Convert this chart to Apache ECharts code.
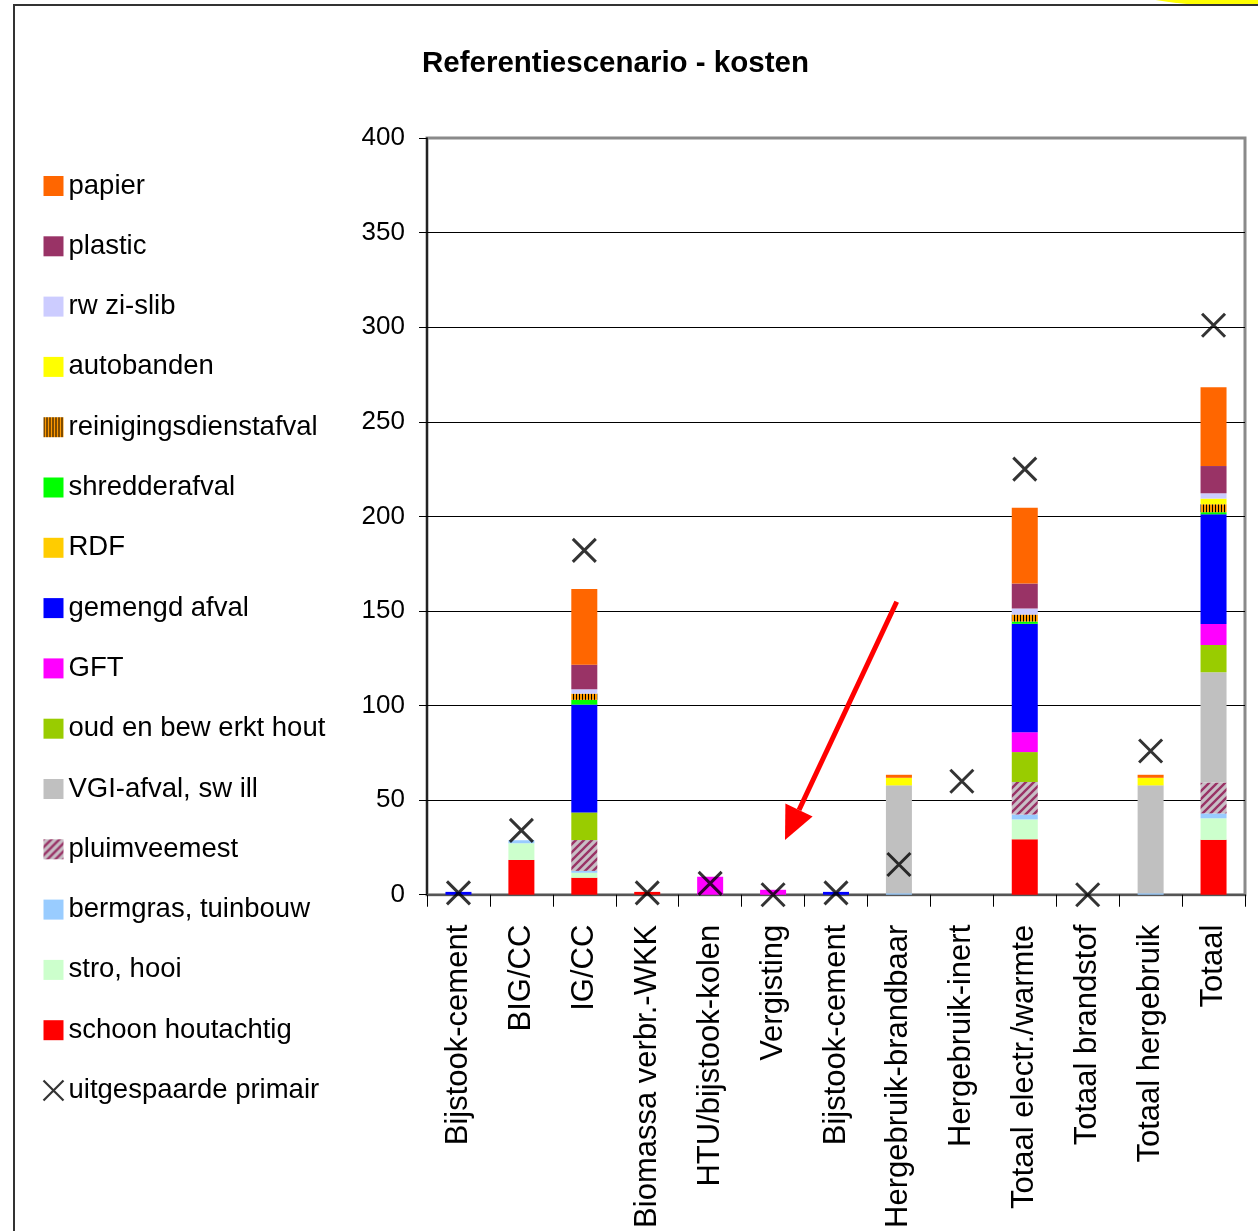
<!DOCTYPE html>
<html>
<head>
<meta charset="utf-8">
<script src="https://cdn.jsdelivr.net/npm/echarts@6/dist/echarts.min.js"></script>
<style>
  html, body { margin: 0; padding: 0; background: #fff; }
  #chart { width: 1258px; height: 1231px; }
</style>
</head>
<body>
<div id="chart"></div>
<script>
// Categories along the x axis
const categories = ['Bijstook-cement', 'BIG/CC', 'IG/CC', 'Biomassa verbr.-WKK', 'HTU/bijstook-kolen',
  'Vergisting', 'Bijstook-cement', 'Hergebruik-brandbaar', 'Hergebruik-inert',
  'Totaal electr./warmte', 'Totaal brandstof', 'Totaal hergebruik', 'Totaal'];

// Cost per waste stream (stacked bottom to top)
const schoonHoutachtig = [0, 18.4, 9, 1.5, 0, 0, 0, 0, 0, 29.3, 0, 0, 29];
const stroHooi        = [0, 8.8, 2.6, 0, 0, 0, 0, 0, 0, 10.5, 0, 0, 11.4];
const bermgras        = [0, 1.6, 1, 0, 0, 0, 0, 0.8, 0, 2.6, 0, 0.8, 2.6];
const pluimveemest    = [0, 0, 16.3, 0, 0, 0, 0, 0, 0, 17.2, 0, 0, 16.3];
const vgiAfval        = [0, 0, 0, 0, 0, 0, 0, 57, 0, 0, 0, 57, 58.3];
const oudHout         = [0, 0, 14.6, 0, 0, 0, 0, 0, 0, 15.8, 0, 0, 14.4];
const gft             = [0, 0, 0, 0, 9.5, 2.6, 0, 0, 0, 10.5, 0, 0, 11.1];
const gemengdAfval    = [1.5, 0, 57, 0, 0, 0, 1.5, 0, 0, 57.3, 0, 0, 58];
const rdf             = [0, 0, 0, 0, 0, 0, 0, 0, 0, 0, 0, 0, 0];
const shredderafval   = [0, 0, 2.5, 0, 0, 0, 0, 0, 0, 1.2, 0, 0, 1.1];
const reinigings      = [0, 0, 3.3, 0, 0, 0, 0, 0, 0, 3.7, 0, 0, 4.2];
const autobanden      = [0, 0, 0, 0, 0, 0, 0, 4, 0, 0, 0, 4, 3];
const rwziSlib        = [0, 0, 2.3, 0, 0, 0, 0, 0, 0, 3.2, 0, 0, 2.8];
const plastic         = [0, 0, 13, 0, 0, 0, 0, 0, 0, 13.2, 0, 0, 14.4];
const papier          = [0, 0, 40, 0, 0, 0, 0, 1.6, 0, 40, 0, 1.6, 41.6];

// Avoided primary costs (cross markers)
const uitgespaard = [1, 34, 182, 1, 6, 0, 1, 16, 60, 225, 0, 76, 301];

// Y axis scale
const yMin = 0, yMax = 400, yStep = 50;

const FONT = '"Liberation Sans", Arial, sans-serif';

// Fill patterns
function hatchDiagonal() {
  const c = document.createElement('canvas');
  c.width = 8; c.height = 8;
  const g = c.getContext('2d');
  g.fillStyle = '#c8bfc6';
  g.fillRect(0, 0, 8, 8);
  g.strokeStyle = '#993366';
  g.lineWidth = 2.4;
  g.beginPath();
  g.moveTo(-2, 10); g.lineTo(10, -2);
  g.moveTo(-6, 6); g.lineTo(6, -6);
  g.moveTo(2, 14); g.lineTo(14, 2);
  g.stroke();
  return { image: c, repeat: 'repeat' };
}
function verticalStripes() {
  const c = document.createElement('canvas');
  c.width = 3; c.height = 3;
  const g = c.getContext('2d');
  g.fillStyle = '#ff9900';
  g.fillRect(0, 0, 3, 3);
  g.fillStyle = '#000000';
  g.fillRect(0, 0, 1, 3);
  return { image: c, repeat: 'repeat' };
}

const stack = [
  ['schoon houtachtig', schoonHoutachtig, '#ff0000'],
  ['stro, hooi', stroHooi, '#ccffcc'],
  ['bermgras, tuinbouw', bermgras, '#99ccff'],
  ['pluimveemest', pluimveemest, hatchDiagonal()],
  ['VGI-afval, sw ill', vgiAfval, '#c0c0c0'],
  ['oud en bew erkt hout', oudHout, '#99cc00'],
  ['GFT', gft, '#ff00ff'],
  ['gemengd afval', gemengdAfval, '#0000ff'],
  ['RDF', rdf, '#ffcc00'],
  ['shredderafval', shredderafval, '#00ff00'],
  ['reinigingsdienstafval', reinigings, verticalStripes()],
  ['autobanden', autobanden, '#ffff00'],
  ['rw zi-slib', rwziSlib, '#ccccff'],
  ['plastic', plastic, '#993366'],
  ['papier', papier, '#ff6600']
];

const crossName = 'uitgespaarde primair';

const series = stack.map(([name, values, color]) => ({
  name, type: 'bar', stack: 'kosten', data: values, barWidth: 26,
  itemStyle: { color }, emphasis: { disabled: true }
}));
series.push({
  name: crossName, type: 'scatter', data: uitgespaard,
  symbol: 'path://M0 0L10 10M10 0L0 10', symbolSize: 23, z: 5,
  itemStyle: { color: 'none', borderColor: '#000', borderWidth: 3 }
});

const legendData = stack.slice().reverse().map(s => ({ name: s[0], icon: 'rect' }));
legendData.push({ name: crossName, itemStyle: { color: 'none', borderColor: '#000', borderWidth: 2.2 } });

const chart = echarts.init(document.getElementById('chart'));
chart.setOption({
  animation: false,
  backgroundColor: '#fff',
  title: {
    text: 'Referentiescenario - kosten',
    left: 417, top: 44,
    textStyle: { fontFamily: FONT, fontSize: 29.5, fontWeight: 'bold', color: '#000' }
  },
  legend: {
    orient: 'vertical', left: 41, top: 171, padding: 0,
    itemWidth: 20, itemHeight: 20, itemGap: 30.3,
    textStyle: { fontFamily: FONT, fontSize: 27.5, color: '#000', lineHeight: 30 },
    data: legendData, selectedMode: false
  },
  grid: {
    left: 427, right: 13, top: 138, bottom: 334,
    show: true, borderColor: '#8a8a8a', borderWidth: 3, backgroundColor: '#fff'
  },
  xAxis: {
    type: 'category', data: categories,
    axisLine: { lineStyle: { color: '#555', width: 2 } },
    axisTick: { show: true, length: 12, lineStyle: { color: '#000', width: 1 } },
    axisLabel: { rotate: 90, margin: 30, interval: 0, fontFamily: FONT, fontSize: 31, color: '#000' }
  },
  yAxis: {
    type: 'value', min: yMin, max: yMax, interval: yStep,
    axisLine: { show: true, lineStyle: { color: '#000', width: 1.5 } },
    axisTick: { show: true, length: 8, lineStyle: { color: '#000' } },
    splitLine: { show: true, showMaxLine: false, lineStyle: { color: '#000', width: 1 } },
    axisLabel: { margin: 22, fontFamily: FONT, fontSize: 26, color: '#000' }
  },
  series,
  graphic: [
    { type: 'ellipse', shape: { cx: 1235, cy: -18, rx: 120, ry: 24 }, style: { fill: '#ffff00' }, z: 0 },
    { type: 'rect', shape: { x: 14, y: 5, width: 1400, height: 1400 },
      style: { fill: 'none', stroke: '#333', lineWidth: 2 }, z: 1 },
    { type: 'line', shape: { x1: 896.7, y1: 601.7, x2: 799, y2: 810 },
      style: { stroke: '#ff0000', lineWidth: 5 }, z: 10 },
    { type: 'polygon', shape: { points: [[785, 840], [812.6, 816.4], [785.4, 803.6]] },
      style: { fill: '#ff0000' }, z: 10 }
  ]
});
</script>
</body>
</html>
